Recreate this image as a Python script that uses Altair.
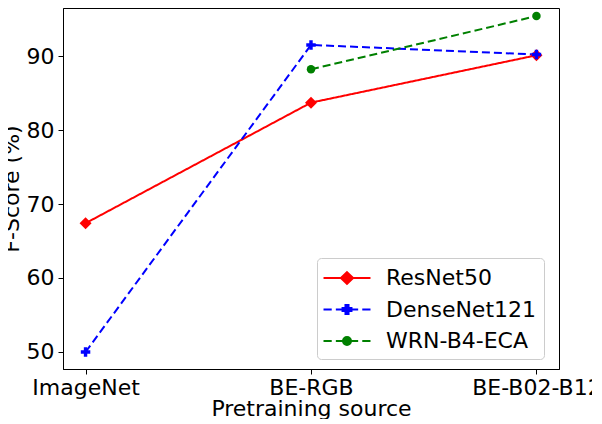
import altair as alt
import pandas as pd

sources = ["ImageNet", "BE-RGB", "BE-B02-B12"]
models = ["ResNet50", "DenseNet121", "WRN-B4-ECA"]
resnet50 = [67.4, 83.7, 90.1]
densenet121 = [50.0, 91.5, 90.2]
wrn_b4_eca = [None, 88.2, 95.4]
colors = ["#ff0000", "#0000ff", "#008000"]
dashes = [[1, 0], [8, 4], [8, 4]]
y_ticks = [50, 60, 70, 80, 90]

rows = []
for m, vals in zip(models, [resnet50, densenet121, wrn_b4_eca]):
    for s, v in zip(sources, vals):
        if v is not None:
            rows.append({"source": s, "model": m, "score": v})
df = pd.DataFrame(rows)

FONT = "DejaVu Sans"
FS = 22

# marker shapes (unit box -1..1)
plus_path = "M-0.36,-1H0.36V-0.36H1V0.36H0.36V1H-0.36V0.36H-1V-0.36H-0.36Z"
marker_shapes = ["diamond", plus_path, "circle"]
marker_sizes = [144, 90, 72]

# legend symbols (line + marker), drawn in a box twice the symbol size wide
leg_solid_diamond = "M-2,0H-0.5M0.5,0H2M0,-0.5L0.52,0L0,0.5L-0.52,0Z"
leg_dash_plus = ("M-2,0H-1.3M-0.95,0H-0.4M0.4,0H0.95M1.3,0H2"
                 "M-0.13,-0.38H0.13V-0.13H0.38V0.13H0.13V0.38H-0.13V0.13H-0.38V-0.13H-0.13Z")
leg_dash_circle = ("M-2,0H-1.3M-0.95,0H-0.4M0.4,0H0.95M1.3,0H2"
                   "M0.34,0A0.34,0.34,0,1,1,-0.34,0A0.34,0.34,0,1,1,0.34,0Z")
legend_shapes = [leg_solid_diamond, leg_dash_plus, leg_dash_circle]

x_enc = alt.X("source:N", sort=sources,
              scale=alt.Scale(domain=sources, type="point", padding=0.1),
              axis=alt.Axis(title="Pretraining source", labelAngle=0, titlePadding=0,
                            labelPadding=3))
y_enc = alt.Y("score:Q",
              scale=alt.Scale(domain=[47.70, 96.49], nice=False, zero=False),
              axis=alt.Axis(title="F-Score (%)", values=y_ticks, titlePadding=3,
                            labelPadding=4))

layers = []
for m, c, d in zip(models, colors, dashes):
    layers.append(
        alt.Chart(df).transform_filter(alt.datum.model == m)
        .mark_line(strokeWidth=2, color=c, strokeDash=d)
        .encode(x=x_enc, y=y_enc)
    )
for m, c, shp, sz in zip(models, colors, marker_shapes, marker_sizes):
    layers.append(
        alt.Chart(df).transform_filter(alt.datum.model == m)
        .mark_point(filled=True, opacity=1, shape=shp, size=sz, color=c)
        .encode(x=x_enc, y=y_enc)
    )

legend_props = dict(
    title=None, orient="none", legendX=254, legendY=250,
    symbolSize=552, symbolStrokeWidth=2, symbolOpacity=1, symbolOffset=10,
    labelFont=FONT, labelFontSize=FS, labelColor="black",
    fillColor="rgba(255,255,255,0.8)", strokeColor="#cccccc", cornerRadius=4,
    padding=7, labelOffset=26, rowPadding=7.5,
)

legend_layer = alt.Chart(df).transform_filter("false").mark_point(
    filled=True, opacity=1, size=552, strokeWidth=2
).encode(
    x=x_enc, y=y_enc,
    fill=alt.Fill("model:N", scale=alt.Scale(domain=models, range=colors),
                  legend=alt.Legend(**legend_props)),
    stroke=alt.Stroke("model:N", scale=alt.Scale(domain=models, range=colors),
                      legend=alt.Legend(**legend_props)),
    shape=alt.Shape("model:N", scale=alt.Scale(domain=models, range=legend_shapes),
                    legend=alt.Legend(**legend_props)),
)
layers.append(legend_layer)

chart = alt.layer(*layers).properties(
    width=496, height=361,
    padding={"left": -8, "top": 0, "right": -10, "bottom": 0},
).configure_view(
    stroke="black", strokeWidth=1
).configure_axis(
    labelFont=FONT, titleFont=FONT, labelFontSize=FS, titleFontSize=FS,
    labelColor="black", titleColor="black", titleFontWeight="normal",
    domainColor="black", tickColor="black", tickSize=5,
    grid=False,
)

chart.save("out.html", embed_options={"renderer": "svg", "actions": False})
